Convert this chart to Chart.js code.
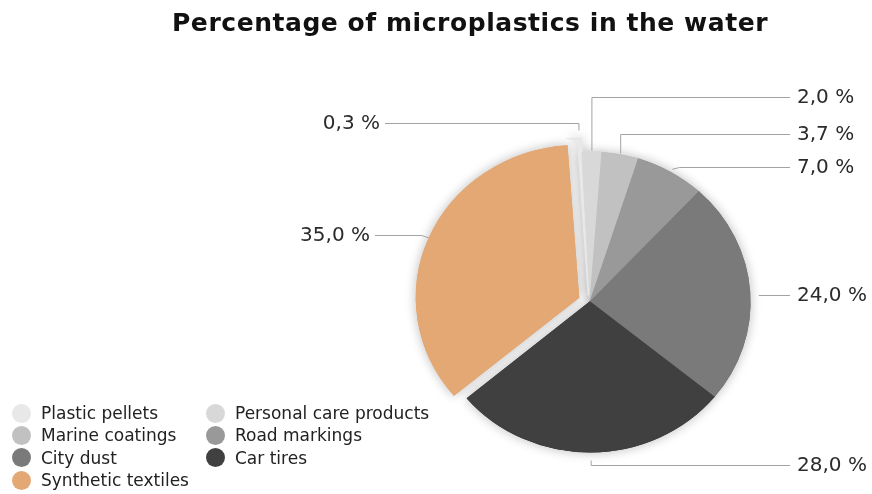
<!DOCTYPE html>
<html>
<head>
<meta charset="utf-8">
<script src="https://cdn.jsdelivr.net/npm/chart.js@4.4.1/dist/chart.umd.min.js"></script>
<style>
  html, body { margin: 0; padding: 0; background: #fff; }
  #wrap { position: relative; width: 872px; height: 494px; overflow: hidden; font-family: "DejaVu Sans", sans-serif; }
  #chart { position: absolute; left: 0; top: 0; }
  #title { position: absolute; left: 172px; top: 8px; line-height: 30px; font-size: 25px; font-weight: bold; letter-spacing: 0.55px; color: #111; white-space: nowrap; }
  #legend { position: absolute; left: 12px; top: 402px; display: grid; grid-template-columns: 194px auto; grid-auto-rows: 22.3px; font-size: 17px; color: #222; }
  #legend .item { display: flex; align-items: center; white-space: nowrap; }
  #legend .dot { width: 19px; height: 19px; border-radius: 50%; margin-right: 10px; flex: none; }
</style>
</head>
<body>
<div id="wrap">
  <canvas id="chart" width="872" height="494"></canvas>
  <div id="title">Percentage of microplastics in the water</div>
  <div id="legend"></div>
</div>
<script>
'use strict';

// ===== Data =====
const CATEGORIES = ['Plastic pellets', 'Personal care products', 'Marine coatings', 'Road markings', 'City dust', 'Car tires', 'Synthetic textiles'];
const SHARES = [0.3, 2.0, 3.7, 7.0, 24.0, 28.0, 35.0];

// ===== Styles =====
const SLICE_COLORS = ['#e8e8e8', '#d8d8d8', '#c1c1c1', '#999999', '#7a7a7a', '#404040', '#e4a874'];
const SLICE_OFFSETS = [26, 0, 0, 0, 0, 0, 46];
const SLICE_BORDERS = [4, 1, 1, 1, 1, 1, 1];

const PIE_RADIUS = 150;
const STRETCH_X = 1.067;   // pie is a little wider than tall

// where each value label sits and how its leader bends
// gap: distance from the rim, bend: x shift of the elbow, endX: where the line stops,
// flat: run the line straight out at the label height
const LEADERS = [
  { side: 'left',  y: 123, gap: 7, bend: 0,  endX: 385 },
  { side: 'right', y: 97,  gap: 1, bend: 0,  endX: 790 },
  { side: 'right', y: 134, gap: 1, bend: 0,  endX: 790 },
  { side: 'right', y: 167, gap: 3, bend: 7,  endX: 790 },
  { side: 'right', y: 295, gap: 8, bend: 0,  endX: 790, flat: true },
  { side: 'right', y: 465, gap: 8, bend: 0,  endX: 790 },
  { side: 'left',  y: 235, gap: 0, bend: -7, endX: 375 }
];

// ===== legend =====
const elLegend = document.getElementById('legend');
CATEGORIES.forEach((name, i) => {
  const item = document.createElement('div');
  item.className = 'item';
  item.innerHTML = `<span class="dot" style="background:${SLICE_COLORS[i]}"></span>${name}`;
  elLegend.appendChild(item);
});

// ===== plugins =====
// widen the pie horizontally and put a soft shadow under it
const pieStretch = {
  id: 'pieStretch',
  beforeDatasetsDraw(chart) {
    const ctx = chart.ctx;
    const arcs = chart.getDatasetMeta(0).data;
    const cx = arcs[0].x;
    ctx.save();
    ctx.translate(cx, 0);
    ctx.scale(STRETCH_X, 1);
    ctx.translate(-cx, 0);

    ctx.save();
    ctx.shadowColor = 'rgba(0,0,0,0.26)';
    ctx.shadowBlur = 12;
    arcs.forEach(a => a.draw(ctx));
    ctx.restore();
  },
  afterDatasetsDraw(chart) {
    chart.ctx.restore();
  }
};

function anchorPoint(arc, gap) {
  const o = (arc.options.offset || 0) / 4;
  const circ = arc.endAngle - arc.startAngle;
  const grow = o * (1 - Math.sin(Math.min(Math.PI, circ)));
  const mid = (arc.startAngle + arc.endAngle) / 2;
  const d = o + arc.outerRadius + grow + (arc.options.borderWidth || 0) / 2 + gap;
  const px = arc.x + Math.cos(mid) * d;
  const py = arc.y + Math.sin(mid) * d;
  return { x: arc.x + (px - arc.x) * STRETCH_X, y: py };
}

const leaderLabels = {
  id: 'leaderLabels',
  afterDraw(chart) {
    const ctx = chart.ctx;
    const arcs = chart.getDatasetMeta(0).data;
    const values = chart.data.datasets[0].data;

    ctx.save();
    ctx.strokeStyle = '#a3a3a3';
    ctx.lineWidth = 1;
    ctx.fillStyle = '#2b2b2b';
    ctx.font = '20px "DejaVu Sans", sans-serif';
    ctx.textBaseline = 'middle';

    arcs.forEach((arc, i) => {
      const L = LEADERS[i];
      const a = anchorPoint(arc, L.gap);
      const y = L.y + 0.5;
      ctx.beginPath();
      ctx.moveTo(a.x, L.flat ? y : a.y);
      ctx.lineTo(a.x + L.bend, y);
      ctx.lineTo(L.endX, y);
      ctx.stroke();

      const txt = values[i].toFixed(1).replace('.', ',') + ' %';
      if (L.side === 'right') {
        ctx.textAlign = 'left';
        ctx.fillText(txt, L.endX + 7, L.y + 1);
      } else {
        ctx.textAlign = 'right';
        ctx.fillText(txt, L.endX - 5, L.y + 1);
      }
    });
    ctx.restore();
  }
};

// ===== chart =====
const chart = new Chart(document.getElementById('chart'), {
  type: 'pie',
  data: {
    labels: CATEGORIES,
    datasets: [{
      data: SHARES,
      backgroundColor: SLICE_COLORS,
      borderColor: SLICE_COLORS,
      borderWidth: SLICE_BORDERS,
      borderJoinStyle: 'miter',
      offset: SLICE_OFFSETS,
      rotation: -4,
      radius: PIE_RADIUS,
      clip: false
    }]
  },
  options: {
    responsive: false,
    animation: false,
    rotation: -4,
    radius: PIE_RADIUS,
    layout: { padding: { left: 340, right: 32, top: 126, bottom: 16 } },
    plugins: {
      legend: { display: false },
      title: { display: false },
      tooltip: { enabled: false }
    }
  },
  plugins: [pieStretch, leaderLabels]
});
</script>
</body>
</html>
